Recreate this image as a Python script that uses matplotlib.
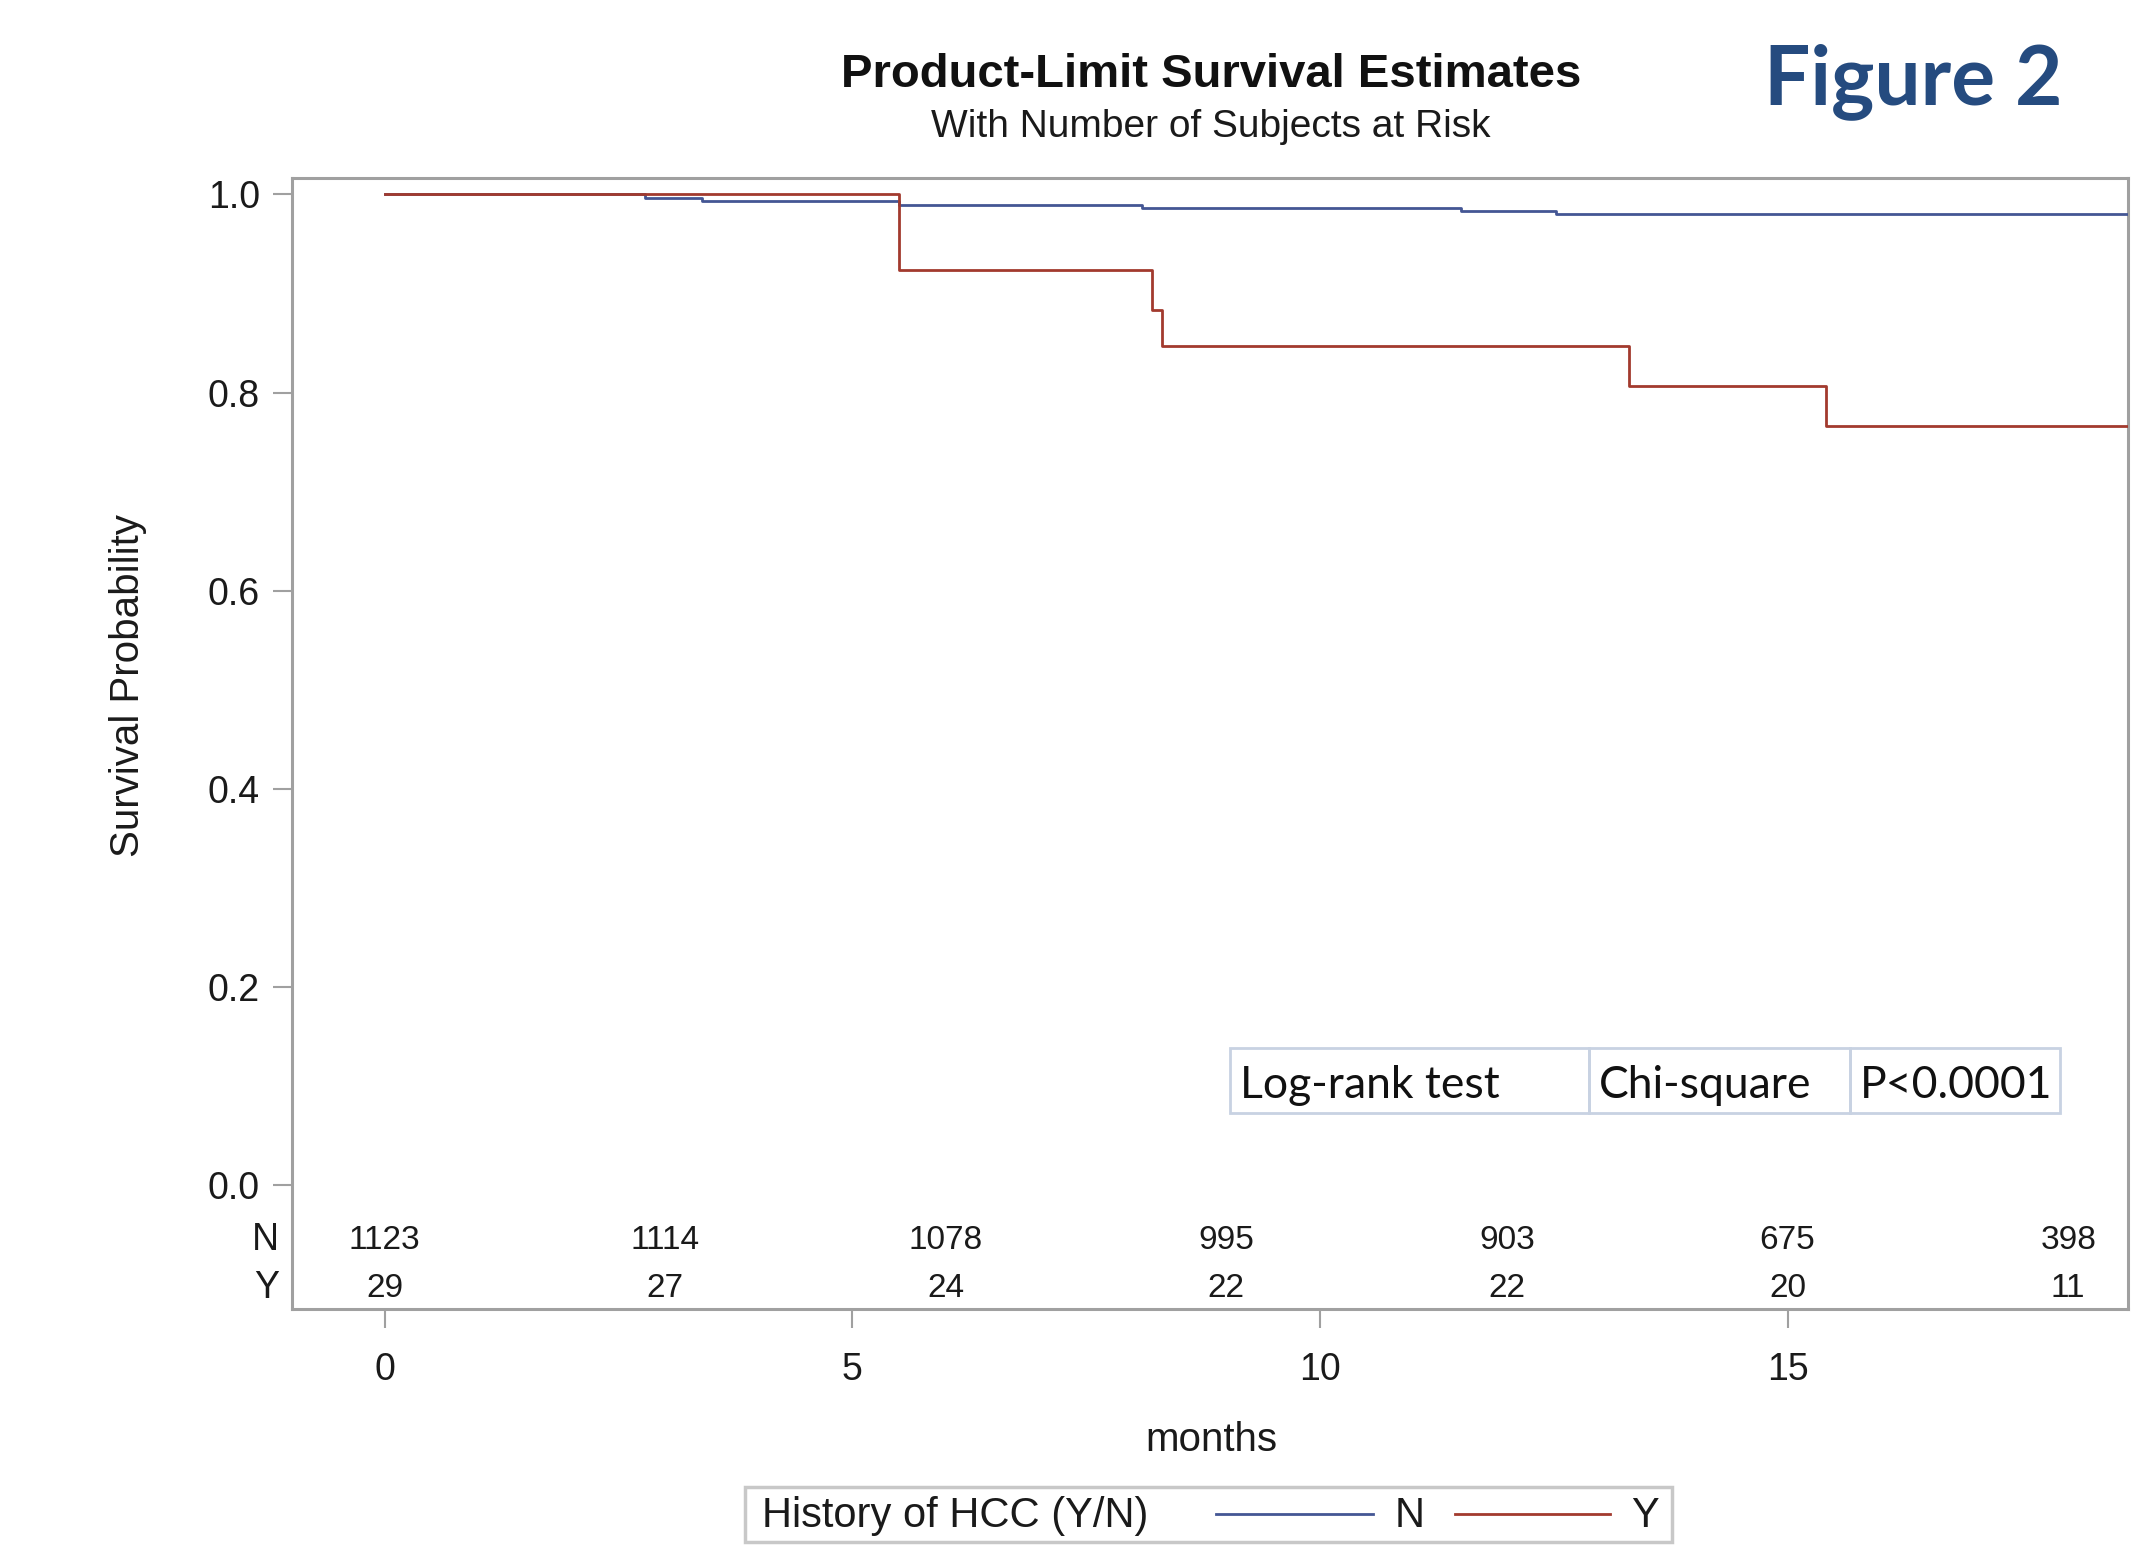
import matplotlib
matplotlib.use("Agg")
import matplotlib.pyplot as plt
from matplotlib.lines import Line2D
from matplotlib.patches import Rectangle

# --- data ---
# Kaplan-Meier steps (months, survival) for History of HCC = N / Y
n_times = [0.0, 2.78, 3.39, 5.50, 8.10, 11.51, 12.52]
n_surv = [1.000, 0.9966, 0.9929, 0.9895, 0.9864, 0.9834, 0.9800]
y_times = [0.0, 5.50, 8.21, 8.31, 13.31, 15.41]
y_surv = [1.000, 0.9237, 0.883, 0.8466, 0.8064, 0.766]

# number at risk table
risk_times = [0, 3, 6, 9, 12, 15, 18]
risk_n = [1123, 1114, 1078, 995, 903, 675, 398]
risk_y = [29, 27, 24, 22, 22, 20, 11]

x_ticks = [0, 5, 10, 15]
y_ticks = [0.0, 0.2, 0.4, 0.6, 0.8, 1.0]
test_row = ['Log-rank test', 'Chi-square', 'P<0.0001']

C_N = '#445694'
C_Y = '#A23A2E'
GRAY = '#A0A0A0'
TXT = '#1a1a1a'
W, H = 2153, 1545
XMIN, XMAX = -0.99, 18.64
YMIN, YMAX = -0.125, 1.0166

plt.rcParams['font.family'] = ['Liberation Sans', 'DejaVu Sans']

fig = plt.figure(figsize=(W / 100, H / 100), dpi=100)
fx = lambda px: px / W
fy = lambda py: 1 - py / H

ax = fig.add_axes([fx(292), fy(1309), fx(2128) - fx(292), fy(178) - fy(1309)])

# curves, extended to the right edge
ax.step(n_times + [XMAX], n_surv + [n_surv[-1]], where='post', color=C_N, lw=2.0, zorder=3)
ax.step(y_times + [XMAX], y_surv + [y_surv[-1]], where='post', color=C_Y, lw=2.0, zorder=4)

ax.set_xlim(XMIN, XMAX)
ax.set_ylim(YMIN, YMAX)
ax.set_xticks(x_ticks)
ax.set_xticklabels([str(t) for t in x_ticks])
ax.set_yticks(y_ticks)
ax.set_yticklabels(['%.1f' % t for t in y_ticks])
ax.tick_params(direction='out', length=14, width=1.5, color=GRAY, labelsize=27, labelcolor=TXT)
ax.tick_params(axis='x', pad=17)
ax.tick_params(axis='y', pad=9)
for s in ax.spines.values():
    s.set_color(GRAY)
    s.set_linewidth(2.2)

fig.text(fx(1211), fy(1440), 'months', ha='center', va='center', fontsize=29, color=TXT)
fig.text(fx(128), fy(686), 'Survival Probability', rotation=90, ha='center', va='center',
         fontsize=29, color=TXT)

# number at risk
for t, a, b in zip(risk_times, risk_n, risk_y):
    ax.text(t, -0.0555, str(a), ha='center', va='center', fontsize=24, color=TXT)
    ax.text(t, -0.104, str(b), ha='center', va='center', fontsize=24, color=TXT)
ax.text(-0.007, -0.0555, 'N', transform=ax.get_yaxis_transform(), ha='right', va='center', fontsize=27, color=TXT)
ax.text(-0.007, -0.104, 'Y', transform=ax.get_yaxis_transform(), ha='right', va='center', fontsize=27, color=TXT)

# log-rank box (three cells)
col_edges = [1230, 1589, 1850, 2060]
for i, label in enumerate(test_row):
    x0, x1 = col_edges[i], col_edges[i + 1]
    fig.patches.append(Rectangle((fx(x0), fy(1113)), fx(x1) - fx(x0), fy(1048) - fy(1113),
                                 transform=fig.transFigure, fill=False, edgecolor='#C8D2E2', lw=2))
    fig.text(fx(x0 + 10), fy(1085), label, ha='left', va='center', fontsize=32,
             family=['Lato', 'DejaVu Sans'], color='#111111', zorder=5)

# titles
fig.text(fx(1211), fy(75), 'Product-Limit Survival Estimates', ha='center', va='center',
         fontsize=34, fontweight='bold', color='#111111')
fig.text(fx(1211), fy(127), 'With Number of Subjects at Risk', ha='center', va='center',
         fontsize=28, color=TXT)
fig.text(fx(1913), fy(82), 'Figure 2', ha='center', va='center', fontsize=59,
         fontweight='bold', family=['Lato', 'DejaVu Sans'], color='#254B7F')

# legend at the bottom
fig.patches.append(Rectangle((fx(745), fy(1542)), fx(1672) - fx(745), fy(1487) - fy(1542),
                             transform=fig.transFigure, fill=False, edgecolor='#C8C8C8', lw=2.5))
fig.text(fx(762), fy(1516), 'History of HCC (Y/N)', ha='left', va='center', fontsize=30, color=TXT)
fig.lines.append(Line2D([fx(1216), fx(1373)], [fy(1514), fy(1514)], transform=fig.transFigure, color=C_N, lw=2))
fig.text(fx(1395), fy(1516), 'N', ha='left', va='center', fontsize=30, color=TXT)
fig.lines.append(Line2D([fx(1455), fx(1610)], [fy(1514), fy(1514)], transform=fig.transFigure, color=C_Y, lw=2))
fig.text(fx(1631), fy(1516), 'Y', ha='left', va='center', fontsize=30, color=TXT)

fig.savefig('out.png', dpi=100)
